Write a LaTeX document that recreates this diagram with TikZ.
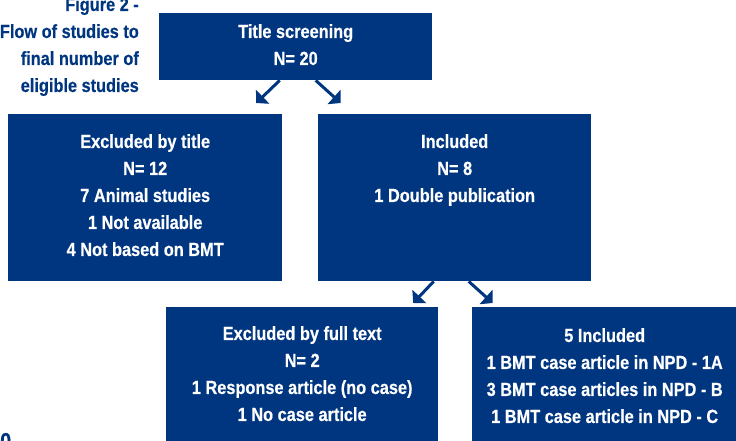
\documentclass[tikz,border=0pt]{standalone}
\usepackage{fontspec}
\setmainfont{Liberation Sans}[FakeStretch=0.86,FakeBold=0.4]
\usetikzlibrary{positioning,arrows.meta}
\definecolor{FlowBlue}{HTML}{003580}
\tikzset{
    box/.style = {fill=FlowBlue, rectangle, inner sep=0pt, anchor=north west},
    boxtext/.style = {text=white, align=center, inner sep=0pt,
        font=\bfseries\fontsize{19}{27}\selectfont},
    caption/.style = {text=FlowBlue, align=right, inner sep=0pt,
        font=\bfseries\fontsize{19}{27}\selectfont},
    arrow/.style = {draw=FlowBlue, line width=3pt, -{Triangle[length=9pt,width=19pt]}}
}

\begin{document}
\begin{tikzpicture}[x=1pt, y=-1pt]
        \useasboundingbox (0,0) rectangle (736,441);
        % caption
        \node [caption, anchor=north east] (figcap) at (139,-3) {Figure 2 -\\Flow of studies to\\final number of\\eligible studies};
        \node [caption, anchor=base west, font=\bfseries\fontsize{23}{27}\selectfont] (pagenum) at (0,449) {0};
        % boxes
        \node [box, minimum width=273pt, minimum height=67pt] (screen) at (159,13) {};
        \node [box, minimum width=274pt, minimum height=167pt] (exclt) at (8,114) {};
        \node [box, minimum width=273pt, minimum height=167pt] (incl) at (318,114) {};
        \node [box, minimum width=272pt, minimum height=140pt] (exclf) at (166,307) {};
        \node [box, minimum width=265pt, minimum height=140pt] (final) at (472,307) {};
        % texts
        \node [boxtext, below=11pt of screen.north] (screentxt) {Title screening\\N= 20};
        \node [boxtext, below=20pt of exclt.north] (excltxt) {Excluded by title\\N= 12\\7 Animal studies\\1 Not available\\4 Not based on BMT};
        \node [boxtext, below=20pt of incl.north] (incltxt) {Included\\N= 8\\1 Double publication};
        \node [boxtext, below=19pt of exclf.north] (exclftxt) {Excluded by full text\\N= 2\\1 Response article (no case)\\1 No case article};
        \node [boxtext, below=21pt of final.north] (finaltxt) {5 Included\\1 BMT case article in NPD - 1A\\3 BMT case articles in NPD - B\\1 BMT case article in NPD - C};
        % arrows
        \draw [arrow] ([xshift=-16pt]screen.south) -- ([xshift=111pt,yshift=11pt]exclt.north);
        \draw [arrow] ([xshift=20pt]screen.south) -- ([xshift=-114pt,yshift=11pt]incl.north);
        \draw [arrow] ([xshift=-21pt]incl.south) -- ([xshift=111pt,yshift=4pt]exclf.north);
        \draw [arrow] ([xshift=14pt]incl.south) -- ([xshift=-112pt,yshift=4pt]final.north);
\end{tikzpicture}
\end{document}
